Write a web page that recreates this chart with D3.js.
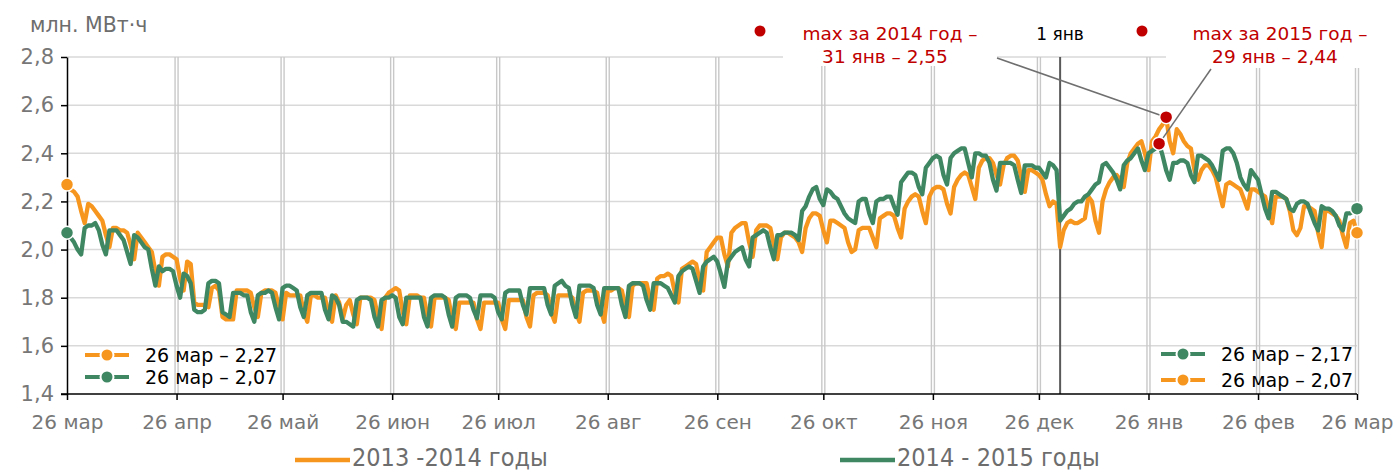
<!DOCTYPE html>
<html>
<head>
<meta charset="utf-8">
<script src="https://cdnjs.cloudflare.com/ajax/libs/d3/7.8.5/d3.min.js"></script>
<style>
  body { margin: 0; background: #fff; }
  svg { display: block; font-family: "DejaVu Sans", Verdana, sans-serif; }
</style>
</head>
<body>
<div id="app"></div>
<script>
// daily consumption, mln MWh, one row per calendar week (Mon..Sun)
// 2013-2014: starts Tue 26 Mar 2013
const load1314 = [
  2.27, 2.25, 2.24, 2.22, 2.16, 2.11,
  2.19, 2.18, 2.16, 2.14, 2.12, 2.06, 2.01,
  2.09, 2.09, 2.08, 2.08, 2.07, 2.02, 1.96,
  2.07, 2.05, 2.03, 2.01, 1.99, 1.91, 1.85,
  1.97, 1.98, 1.98, 1.97, 1.96, 1.88, 1.83,
  1.95, 1.94, 1.78, 1.77, 1.77, 1.77, 1.76,
  1.84, 1.85, 1.83, 1.72, 1.71, 1.71, 1.71,
  1.83, 1.83, 1.83, 1.83, 1.82, 1.76, 1.72,
  1.82, 1.83, 1.83, 1.83, 1.82, 1.76, 1.71,
  1.82, 1.81, 1.81, 1.81, 1.81, 1.74, 1.70,
  1.81, 1.81, 1.80, 1.80, 1.80, 1.74, 1.70,
  1.81, 1.78, 1.71, 1.77, 1.79, 1.73, 1.69,
  1.80, 1.80, 1.80, 1.80, 1.79, 1.72, 1.67,
  1.80, 1.82, 1.83, 1.84, 1.83, 1.74, 1.69,
  1.81, 1.81, 1.81, 1.80, 1.80, 1.72, 1.68,
  1.80, 1.80, 1.80, 1.80, 1.79, 1.71, 1.67,
  1.78, 1.78, 1.78, 1.78, 1.78, 1.71, 1.67,
  1.78, 1.78, 1.78, 1.78, 1.78, 1.71, 1.67,
  1.79, 1.79, 1.79, 1.79, 1.79, 1.72, 1.68,
  1.81, 1.82, 1.82, 1.82, 1.81, 1.74, 1.70,
  1.81, 1.81, 1.81, 1.81, 1.80, 1.74, 1.70,
  1.82, 1.83, 1.83, 1.83, 1.82, 1.75, 1.70,
  1.83, 1.83, 1.84, 1.84, 1.83, 1.76, 1.72,
  1.85, 1.86, 1.86, 1.86, 1.86, 1.79, 1.75,
  1.88, 1.89, 1.89, 1.90, 1.89, 1.82, 1.78,
  1.92, 1.93, 1.94, 1.95, 1.94, 1.87, 1.83,
  1.99, 2.01, 2.03, 2.05, 2.05, 1.98, 1.93,
  2.07, 2.09, 2.10, 2.11, 2.11, 2.03, 1.97,
  2.08, 2.10, 2.10, 2.10, 2.09, 2.02, 1.96,
  2.05, 2.07, 2.07, 2.06, 2.05, 2.03, 1.99,
  2.09, 2.13, 2.15, 2.15, 2.14, 2.08, 2.03,
  2.12, 2.12, 2.11, 2.10, 2.09, 2.03, 1.99,
  2.00, 2.08, 2.09, 2.09, 2.09, 2.05, 2.01,
  2.13, 2.14, 2.15, 2.15, 2.14, 2.09, 2.05,
  2.17, 2.20, 2.22, 2.23, 2.22, 2.16, 2.11,
  2.22, 2.25, 2.26, 2.26, 2.25, 2.19, 2.15,
  2.26, 2.29, 2.31, 2.32, 2.31, 2.26, 2.21,
  2.34, 2.37, 2.38, 2.38, 2.36, 2.31, 2.27,
  2.35, 2.38, 2.39, 2.39, 2.37, 2.30, 2.24,
  2.33, 2.33, 2.32, 2.31, 2.29, 2.23, 2.18,
  2.20, 2.19, 2.01, 2.08, 2.11, 2.12, 2.11,
  2.11, 2.12, 2.13, 2.22, 2.20, 2.12, 2.07,
  2.20, 2.25, 2.28, 2.30, 2.31, 2.29, 2.26,
  2.36, 2.40, 2.42, 2.44, 2.45, 2.40, 2.33,
  2.45, 2.47, 2.50, 2.52, 2.55, 2.45, 2.40,
  2.50, 2.48, 2.45, 2.43, 2.42, 2.33, 2.29,
  2.33, 2.35, 2.35, 2.33, 2.30, 2.24, 2.18,
  2.27, 2.28, 2.27, 2.26, 2.25, 2.21, 2.17,
  2.25, 2.25, 2.24, 2.23, 2.22, 2.16, 2.11,
  2.22, 2.22, 2.22, 2.21, 2.16, 2.08, 2.06,
  2.09, 2.18, 2.18, 2.17, 2.16, 2.07, 2.01,
  2.16, 2.16, 2.15, 2.14, 2.12, 2.06, 2.01,
  2.11, 2.12, 2.07
];

// 2014-2015: starts Wed 26 Mar 2014
const load1415 = [
  2.07, 2.05, 2.03, 2.00, 1.98,
  2.09, 2.10, 2.10, 2.11, 2.08, 2.02, 1.98,
  2.08, 2.08, 2.08, 2.06, 2.04, 1.99, 1.94,
  2.06, 2.05, 2.03, 2.01, 2.00, 1.92, 1.85,
  1.93, 1.91, 1.92, 1.92, 1.91, 1.85, 1.80,
  1.90, 1.89, 1.86, 1.75, 1.74, 1.74, 1.75,
  1.86, 1.87, 1.87, 1.86, 1.74, 1.73, 1.72,
  1.82, 1.82, 1.82, 1.81, 1.81, 1.74, 1.70,
  1.81, 1.82, 1.82, 1.83, 1.82, 1.76, 1.71,
  1.84, 1.85, 1.85, 1.84, 1.83, 1.76, 1.72,
  1.81, 1.82, 1.82, 1.82, 1.82, 1.75, 1.71,
  1.81, 1.80, 1.77, 1.70, 1.70, 1.69, 1.68,
  1.79, 1.80, 1.80, 1.80, 1.79, 1.72, 1.68,
  1.79, 1.80, 1.80, 1.81, 1.80, 1.72, 1.69,
  1.80, 1.80, 1.80, 1.80, 1.80, 1.72, 1.68,
  1.80, 1.81, 1.81, 1.81, 1.80, 1.73, 1.68,
  1.80, 1.81, 1.81, 1.81, 1.80, 1.75, 1.715,
  1.81, 1.81, 1.81, 1.81, 1.80, 1.74, 1.71,
  1.82, 1.83, 1.83, 1.83, 1.83, 1.77, 1.73,
  1.84, 1.84, 1.84, 1.84, 1.84, 1.77, 1.73,
  1.85, 1.86, 1.87, 1.85, 1.84, 1.77, 1.72,
  1.85, 1.85, 1.85, 1.85, 1.84, 1.77, 1.73,
  1.84, 1.84, 1.84, 1.84, 1.84, 1.77, 1.72,
  1.85, 1.86, 1.86, 1.86, 1.85, 1.79, 1.75,
  1.86, 1.86, 1.86, 1.85, 1.84, 1.81, 1.78,
  1.89, 1.91, 1.92, 1.93, 1.92, 1.87, 1.82,
  1.93, 1.95, 1.96, 1.97, 1.95, 1.90, 1.845,
  1.95, 1.97, 1.99, 2.00, 2.01, 1.96, 1.93,
  2.05, 2.06, 2.07, 2.08, 2.07, 2.01, 1.96,
  2.06, 2.06, 2.07, 2.07, 2.07, 2.06, 2.04,
  2.16, 2.18, 2.22, 2.25, 2.26, 2.21, 2.185,
  2.25, 2.24, 2.22, 2.21, 2.18, 2.15, 2.13,
  2.12, 2.11, 2.20, 2.21, 2.21, 2.15, 2.11,
  2.20, 2.21, 2.21, 2.22, 2.22, 2.18, 2.145,
  2.28, 2.30, 2.32, 2.32, 2.31, 2.26, 2.23,
  2.34, 2.36, 2.38, 2.39, 2.38, 2.31, 2.27,
  2.38, 2.40, 2.41, 2.42, 2.42, 2.36, 2.30,
  2.40, 2.40, 2.39, 2.39, 2.36, 2.29, 2.245,
  2.36, 2.36, 2.36, 2.36, 2.35, 2.29, 2.235,
  2.35, 2.35, 2.35, 2.34, 2.34, 2.32, 2.30,
  2.36, 2.35, 2.33, 2.12, 2.14, 2.16, 2.17,
  2.19, 2.20, 2.20, 2.22, 2.23, 2.25, 2.27,
  2.28, 2.35, 2.36, 2.34, 2.32, 2.29, 2.25,
  2.35, 2.37, 2.38, 2.40, 2.42, 2.37, 2.33,
  2.40, 2.41, 2.42, 2.44, 2.39, 2.33, 2.29,
  2.36, 2.36, 2.37, 2.37, 2.36, 2.31, 2.28,
  2.39, 2.39, 2.38, 2.37, 2.35, 2.32, 2.29,
  2.41, 2.42, 2.42, 2.40, 2.36, 2.30, 2.27,
  2.25, 2.33, 2.31, 2.29, 2.23, 2.17, 2.13,
  2.24, 2.24, 2.23, 2.22, 2.21, 2.17, 2.16,
  2.19, 2.20, 2.20, 2.19, 2.15, 2.11, 2.08,
  2.18, 2.17, 2.17, 2.16, 2.14, 2.10, 2.08,
  2.15, 2.15, 2.16, 2.17
];

const monthLabels = ['мар', 'апр', 'май', 'июн', 'июл', 'авг', 'сен', 'окт', 'ноя', 'дек', 'янв', 'фев', 'мар'];
const yTicks = [1.4, 1.6, 1.8, 2.0, 2.2, 2.4, 2.6, 2.8];
const seriesNames = ['2013 -2014 годы', '2014 - 2015 годы'];
const maxYears = ['2014', '2015'];

const orange = '#f7961f';
const green = '#3f8763';
const red = '#c00000';

const svg = d3.select('#app').append('svg')
  .attr('width', 1397)
  .attr('height', 473);

const margin = { top: 57, right: 40, bottom: 79, left: 67 };
const width = +svg.attr('width') - margin.left - margin.right;
const height = +svg.attr('height') - margin.top - margin.bottom;

const g = svg.append('g')
  .attr('transform', `translate(${margin.left},${margin.top})`);

const start = new Date(Date.UTC(2013, 2, 26));
const dayDate = i => d3.utcDay.offset(start, i);

const x = d3.scaleUtc()
  .domain([start, new Date(Date.UTC(2014, 2, 26))])
  .range([0, width]);

const y = d3.scaleLinear()
  .domain([1.4, 2.8])
  .range([height, 0]);

const monthTicks = monthLabels.map((m, i) => new Date(Date.UTC(2013, 2 + i, 26)));
const fmt = d => d3.format('.1f')(d).replace('.', ',');
const fmt2 = d => d3.format('.2f')(d).replace('.', ',');

// grid
g.append('g').selectAll('line')
  .data(yTicks.slice(1))
  .enter().append('line')
    .attr('x1', 0).attr('x2', width)
    .attr('y1', d => y(d)).attr('y2', d => y(d))
    .attr('stroke', '#d9d9d9').attr('stroke-width', 1.5);

const vgrid = g.append('g');
monthTicks.slice(1).forEach(d => {
  [-1.5, 1.5].forEach(off => {
    vgrid.append('line')
      .attr('x1', x(d) + off).attr('x2', x(d) + off)
      .attr('y1', 0).attr('y2', height)
      .attr('stroke', '#c8c8c8').attr('stroke-width', 1.4);
  });
});

// white label boxes on top of grid
g.append('rect').attr('x', 783 - margin.left).attr('y', 14 - margin.top)
  .attr('width', 214).attr('height', 52).attr('fill', '#fff');
g.append('rect').attr('x', 1166 - margin.left).attr('y', 14 - margin.top)
  .attr('width', 200).attr('height', 54).attr('fill', '#fff');

// 1 янв marker
const jan1 = new Date(Date.UTC(2014, 0, 1));
g.append('line')
  .attr('x1', x(jan1)).attr('x2', x(jan1))
  .attr('y1', 0).attr('y2', height)
  .attr('stroke', '#595959').attr('stroke-width', 2);
g.append('text')
  .attr('x', x(jan1)).attr('y', 40 - margin.top)
  .attr('text-anchor', 'middle')
  .attr('font-size', 17).attr('fill', '#000')
  .text('1 янв');

// axes
const xAxis = g.append('g')
  .attr('transform', `translate(0,${height})`)
  .call(d3.axisBottom(x)
    .tickValues(monthTicks)
    .tickFormat((d, i) => '26 ' + monthLabels[i])
    .tickSize(6)
    .tickSizeOuter(0));
xAxis.select('.domain').attr('stroke', '#000').attr('stroke-width', 1.5)
  .attr('d', `M-6,0H${width}`);
xAxis.selectAll('.tick line').attr('stroke', '#000').attr('stroke-width', 1.5);
xAxis.selectAll('.tick text')
  .attr('font-family', '"DejaVu Sans", Verdana, sans-serif')
  .attr('font-size', 20).attr('fill', '#777').attr('y', 18).attr('dy', '0.85em');

const yAxis = g.append('g')
  .call(d3.axisLeft(y)
    .tickValues(yTicks)
    .tickFormat(fmt)
    .tickSize(6)
    .tickSizeOuter(0));
yAxis.select('.domain').attr('stroke', '#000').attr('stroke-width', 1.5);
yAxis.selectAll('.tick line').attr('stroke', '#000').attr('stroke-width', 1.5);
yAxis.selectAll('.tick text')
  .attr('font-family', '"DejaVu Sans", Verdana, sans-serif')
  .attr('font-size', 21).attr('fill', '#777').attr('x', -13);

svg.append('text')
  .attr('x', 30).attr('y', 32)
  .attr('font-size', 20.5).attr('fill', '#6d6d6d')
  .text('млн. МВт·ч');

// series
const line = d3.line()
  .x((d, i) => x(dayDate(i)))
  .y(d => y(d))
  .curve(d3.curveLinear);

const series = [
  { values: load1314, color: orange },
  { values: load1415, color: green }
];

series.forEach(s => {
  g.append('path')
    .datum(s.values)
    .attr('fill', 'none')
    .attr('stroke', s.color)
    .attr('stroke-width', 4.3)
    .attr('stroke-linejoin', 'round')
    .attr('d', line);
});

// end points
series.forEach(s => {
  const last = s.values.length - 1;
  [0, last].forEach(i => {
    g.append('circle')
      .attr('cx', x(dayDate(i))).attr('cy', y(s.values[i]))
      .attr('r', 6.5)
      .attr('fill', s.color)
      .attr('stroke', '#fff').attr('stroke-width', 1.5);
  });
});

// maxima in the winter
const maxPts = series.map(s => {
  const i = d3.maxIndex(s.values);
  return { i, v: s.values[i], px: x(dayDate(i)), py: y(s.values[i]), date: dayDate(i) };
});

// leader lines
const leaderFrom = [[997, 58], [1211, 69]];
maxPts.forEach((p, k) => {
  g.append('line')
    .attr('x1', leaderFrom[k][0] - margin.left).attr('y1', leaderFrom[k][1] - margin.top)
    .attr('x2', p.px).attr('y2', p.py)
    .attr('stroke', '#6f6f6f').attr('stroke-width', 1.5);
});
maxPts.forEach(p => {
  g.append('circle')
    .attr('cx', p.px).attr('cy', p.py)
    .attr('r', 6.5)
    .attr('fill', red)
    .attr('stroke', '#fff').attr('stroke-width', 1.5);
});

// annotation texts
const labelPos = [{ cx: 890, dot: 760 }, { cx: 1280, dot: 1142 }];
maxPts.forEach((p, k) => {
  const day = d3.utcFormat('%-d')(p.date);
  const t = svg.append('text')
    .attr('text-anchor', 'middle')
    .attr('font-size', 18.5).attr('fill', red);
  t.append('tspan').attr('x', labelPos[k].cx).attr('y', 40)
    .text(`max за ${maxYears[k]} год –`);
  t.append('tspan').attr('x', labelPos[k].cx - 5).attr('y', 63)
    .text(`${day} янв – ${fmt2(p.v)}`);
  svg.append('circle')
    .attr('cx', labelPos[k].dot).attr('cy', 31).attr('r', 5.5)
    .attr('fill', red);
});

// inner legends (start and end values)
function legendRow(xs, yRow, color, label) {
  svg.append('line')
    .attr('x1', xs).attr('x2', xs + 44)
    .attr('y1', yRow).attr('y2', yRow)
    .attr('stroke', color).attr('stroke-width', 4);
  svg.append('circle')
    .attr('cx', xs + 22).attr('cy', yRow).attr('r', 6.5)
    .attr('fill', color).attr('stroke', '#fff').attr('stroke-width', 2);
  svg.append('text')
    .attr('x', xs + 60).attr('y', yRow + 7)
    .attr('font-size', 19).attr('fill', '#000')
    .text(label);
}
const last1314 = load1314[load1314.length - 1];
const last1415 = load1415[load1415.length - 1];
legendRow(85, 355, orange, `26 мар – ${fmt2(load1314[0])}`);
legendRow(85, 377, green, `26 мар – ${fmt2(load1415[0])}`);
legendRow(1161, 354, green, `26 мар – ${fmt2(last1415)}`);
legendRow(1161, 380, orange, `26 мар – ${fmt2(last1314)}`);

// bottom legend
const bottomLegend = [
  { x: 295, color: orange, name: seriesNames[0] },
  { x: 840, color: green, name: seriesNames[1] }
];
bottomLegend.forEach(b => {
  svg.append('line')
    .attr('x1', b.x).attr('x2', b.x + 55)
    .attr('y1', 460).attr('y2', 460)
    .attr('stroke', b.color).attr('stroke-width', 4.5);
  svg.append('text')
    .attr('x', b.x + 57).attr('y', 466)
    .attr('font-family', '"DejaVu Sans Condensed", "DejaVu Sans", sans-serif')
    .attr('font-size', 25).attr('fill', '#6d6d6d')
    .text(b.name);
});
</script>
</body>
</html>
